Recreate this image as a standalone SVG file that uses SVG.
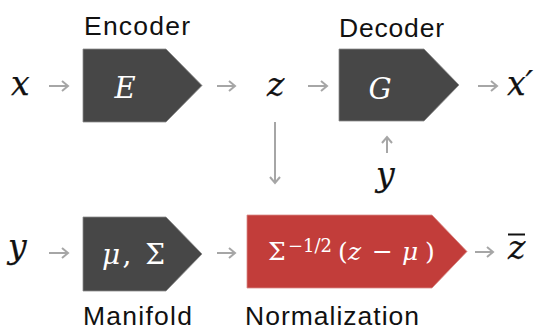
<svg xmlns="http://www.w3.org/2000/svg" width="537" height="331" viewBox="0 0 537 331">
<defs>
<marker id="ah" viewBox="-8 -6 10 12" markerWidth="10" markerHeight="12" refX="0" refY="0" markerUnits="userSpaceOnUse" orient="auto">
<path d="M-6,-5 L0,0 L-6,5" fill="none" stroke="#a6a6a6" stroke-width="2"/>
</marker>
</defs>
<style>
.lbl{font-family:"Liberation Sans",Arial,sans-serif;font-size:26.5px;fill:#111}
.m{font-family:"DejaVu Serif",serif;font-style:italic;font-size:33px;fill:#111;stroke:#111;stroke-width:0.25}
.mw{font-family:"DejaVu Serif",serif;fill:#fff}
.dark{fill:#474747;stroke:#8a8a8a;stroke-width:0.8}
.red{fill:#c23d3a;stroke:#d98a88;stroke-width:0.8}
.arr{stroke:#a6a6a6;stroke-width:2;fill:none;marker-end:url(#ah)}
</style>
<rect width="537" height="331" fill="#fff"/>
<g id="connectors">
<line class="arr" x1="49" y1="86" x2="68" y2="86"/>
<line class="arr" x1="217" y1="86" x2="235" y2="86"/>
<line class="arr" x1="308" y1="86" x2="327" y2="86"/>
<line class="arr" x1="478" y1="86" x2="497" y2="86"/>
<line class="arr" x1="275" y1="122" x2="275" y2="183"/>
<line class="arr" x1="387" y1="153" x2="387" y2="137"/>
<line class="arr" x1="49" y1="253" x2="68" y2="253"/>
<line class="arr" x1="217" y1="253" x2="235" y2="253"/>
<line class="arr" x1="475" y1="252" x2="493" y2="252"/>
</g>
<g id="x-in"><text class="m" x="11" y="95">x</text></g>
<g id="encoder">
<polygon class="dark" points="83,49 166,49 202,85.5 166,122 83,122"/>
<text class="mw" x="125" y="98" font-size="29" font-style="italic" text-anchor="middle">E</text>
<text class="lbl" x="84" y="35" textLength="106" lengthAdjust="spacing">Encoder</text>
</g>
<g id="z"><text class="m" x="267" y="96">z</text></g>
<g id="decoder">
<polygon class="dark" points="339,49 424,49 459,85 424,121 339,121"/>
<text class="mw" x="380" y="99" font-size="29" font-style="italic" text-anchor="middle">G</text>
<text class="lbl" x="339" y="37" textLength="105" lengthAdjust="spacing">Decoder</text>
</g>
<g id="x-out"><text class="m" x="507" y="95">x′</text></g>
<g id="y-top"><text class="m" x="376" y="186">y</text></g>
<g id="y-in"><text class="m" x="8" y="258">y</text></g>
<g id="manifold">
<polygon class="dark" points="83,217 166,217 202,254 166,291 83,291"/>
<text class="mw" x="102" y="264" font-size="28" textLength="63" lengthAdjust="spacing"><tspan font-style="italic">μ</tspan>, Σ</text>
<text class="lbl" x="83" y="325" textLength="109" lengthAdjust="spacing">Manifold</text>
</g>
<g id="normalization">
<polygon class="red" points="247,215 432,215 467,251.5 432,288 247,288"/>
<text class="mw" y="260" font-size="25"><tspan x="268">Σ</tspan><tspan x="288" y="252" font-size="18">−1/2</tspan><tspan x="338" y="260">(</tspan><tspan x="348" font-style="italic">z</tspan><tspan x="372">−</tspan><tspan x="402" font-style="italic">μ</tspan><tspan x="425">)</tspan></text>
<text class="lbl" x="245" y="325" textLength="174" lengthAdjust="spacing">Normalization</text>
</g>
<g id="z-bar">
<text class="m" x="508" y="259">z</text>
<line x1="508" y1="234.5" x2="525" y2="234.5" stroke="#111" stroke-width="2"/>
</g>
</svg>
